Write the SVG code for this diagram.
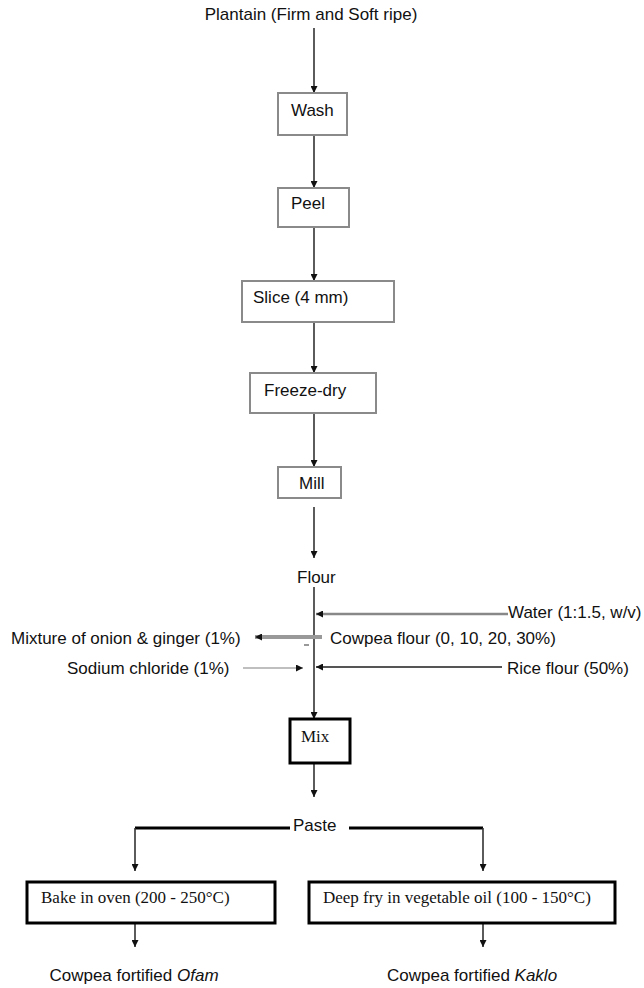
<svg xmlns="http://www.w3.org/2000/svg" width="644" height="988" viewBox="0 0 644 988">
<style>
.t{font-family:"Liberation Sans",Arial,sans-serif;font-size:17px;fill:#111}
.s{font-family:"Liberation Serif","Times New Roman",serif;font-size:17px;fill:#111}
.box1{fill:#fff;stroke:#8a8a8a;stroke-width:2}
.box2{fill:#fff;stroke:#000;stroke-width:3}
.ln{fill:none;stroke:#333;stroke-width:1.6}
</style>
<defs>
<marker id="ah" viewBox="0 0 8 8" refX="8" refY="4" markerWidth="7" markerHeight="7" markerUnits="userSpaceOnUse" orient="auto">
<path d="M0,0 L8,4 L0,8 z" fill="#111"/>
</marker>
</defs>
<rect width="644" height="988" fill="#fff"/>
<g id="connectors">
<path class="ln" d="M314,28 V93" marker-end="url(#ah)"/>
<path class="ln" d="M314,135 V188" marker-end="url(#ah)"/>
<path class="ln" d="M314,227 V281" marker-end="url(#ah)"/>
<path class="ln" d="M314,322 V373" marker-end="url(#ah)"/>
<path class="ln" d="M314,413 V467" marker-end="url(#ah)"/>
<path class="ln" d="M314,507 V558" marker-end="url(#ah)"/>
<path class="ln" d="M314,587 V719" marker-end="url(#ah)"/>
<path fill="none" stroke="#888" stroke-width="2.5" d="M508,614 H316" marker-end="url(#ah)"/>
<path fill="none" stroke="#999" stroke-width="4" d="M322,637 H255" marker-end="url(#ah)"/>
<path fill="none" stroke="#555" stroke-width="1.2" d="M304,645 H309"/>
<path fill="none" stroke="#aaa" stroke-width="1.5" d="M243,668 H303" marker-end="url(#ah)"/>
<path fill="none" stroke="#555" stroke-width="2" d="M502,667 H316" marker-end="url(#ah)"/>
<path class="ln" d="M314,763 V797" marker-end="url(#ah)"/>
<path fill="none" stroke="#000" stroke-width="3" d="M290,828 H135 M349,828 H483"/>
<path class="ln" d="M135,828 V871" marker-end="url(#ah)"/>
<path class="ln" d="M483,828 V871" marker-end="url(#ah)"/>
<path class="ln" d="M135,923 V947" marker-end="url(#ah)"/>
<path class="ln" d="M483,923 V947" marker-end="url(#ah)"/>
</g>
<g id="n-plantain"><text class="t" x="311" y="20" text-anchor="middle">Plantain (Firm and Soft ripe)</text></g>
<g id="n-wash"><rect class="box1" x="278" y="93" width="69" height="42"/><text class="t" x="291" y="116">Wash</text></g>
<g id="n-peel"><rect class="box1" x="278" y="188" width="71" height="39"/><text class="t" x="291" y="209">Peel</text></g>
<g id="n-slice"><rect class="box1" x="242" y="281" width="152" height="41"/><text class="t" x="253" y="303">Slice (4 mm)</text></g>
<g id="n-freeze"><rect class="box1" x="250" y="373" width="126" height="40"/><text class="t" x="264" y="396">Freeze-dry</text></g>
<g id="n-mill"><rect class="box1" x="278" y="467" width="63" height="31"/><text class="t" x="299" y="489">Mill</text></g>
<g id="n-flour"><text class="t" x="297" y="583">Flour</text></g>
<g id="n-water"><text class="t" x="508" y="618">Water (1:1.5, w/v)</text></g>
<g id="n-mixture"><text class="t" x="11" y="644">Mixture of onion &amp; ginger (1%)</text></g>
<g id="n-cowpea"><text class="t" x="330" y="644">Cowpea flour (0, 10, 20, 30%)</text></g>
<g id="n-sodium"><text class="t" x="67" y="674">Sodium chloride (1%)</text></g>
<g id="n-rice"><text class="t" x="507" y="674">Rice flour (50%)</text></g>
<g id="n-mix"><rect class="box2" x="290" y="719" width="60" height="44"/><text class="s" x="301" y="742">Mix</text></g>
<g id="n-paste"><text class="t" x="293" y="831">Paste</text></g>
<g id="n-bake"><rect class="box2" x="27" y="882" width="248" height="41"/><text class="s" x="41" y="903">Bake in oven (200 - 250°C)</text></g>
<g id="n-fry"><rect class="box2" x="309" y="882" width="306" height="41"/><text class="s" x="323" y="903">Deep fry in vegetable oil (100 - 150°C)</text></g>
<g id="n-ofam"><text class="t" x="134" y="981" text-anchor="middle">Cowpea fortified <tspan font-style="italic">Ofam</tspan></text></g>
<g id="n-kaklo"><text class="t" x="387" y="981">Cowpea fortified <tspan font-style="italic">Kaklo</tspan></text></g>
</svg>
